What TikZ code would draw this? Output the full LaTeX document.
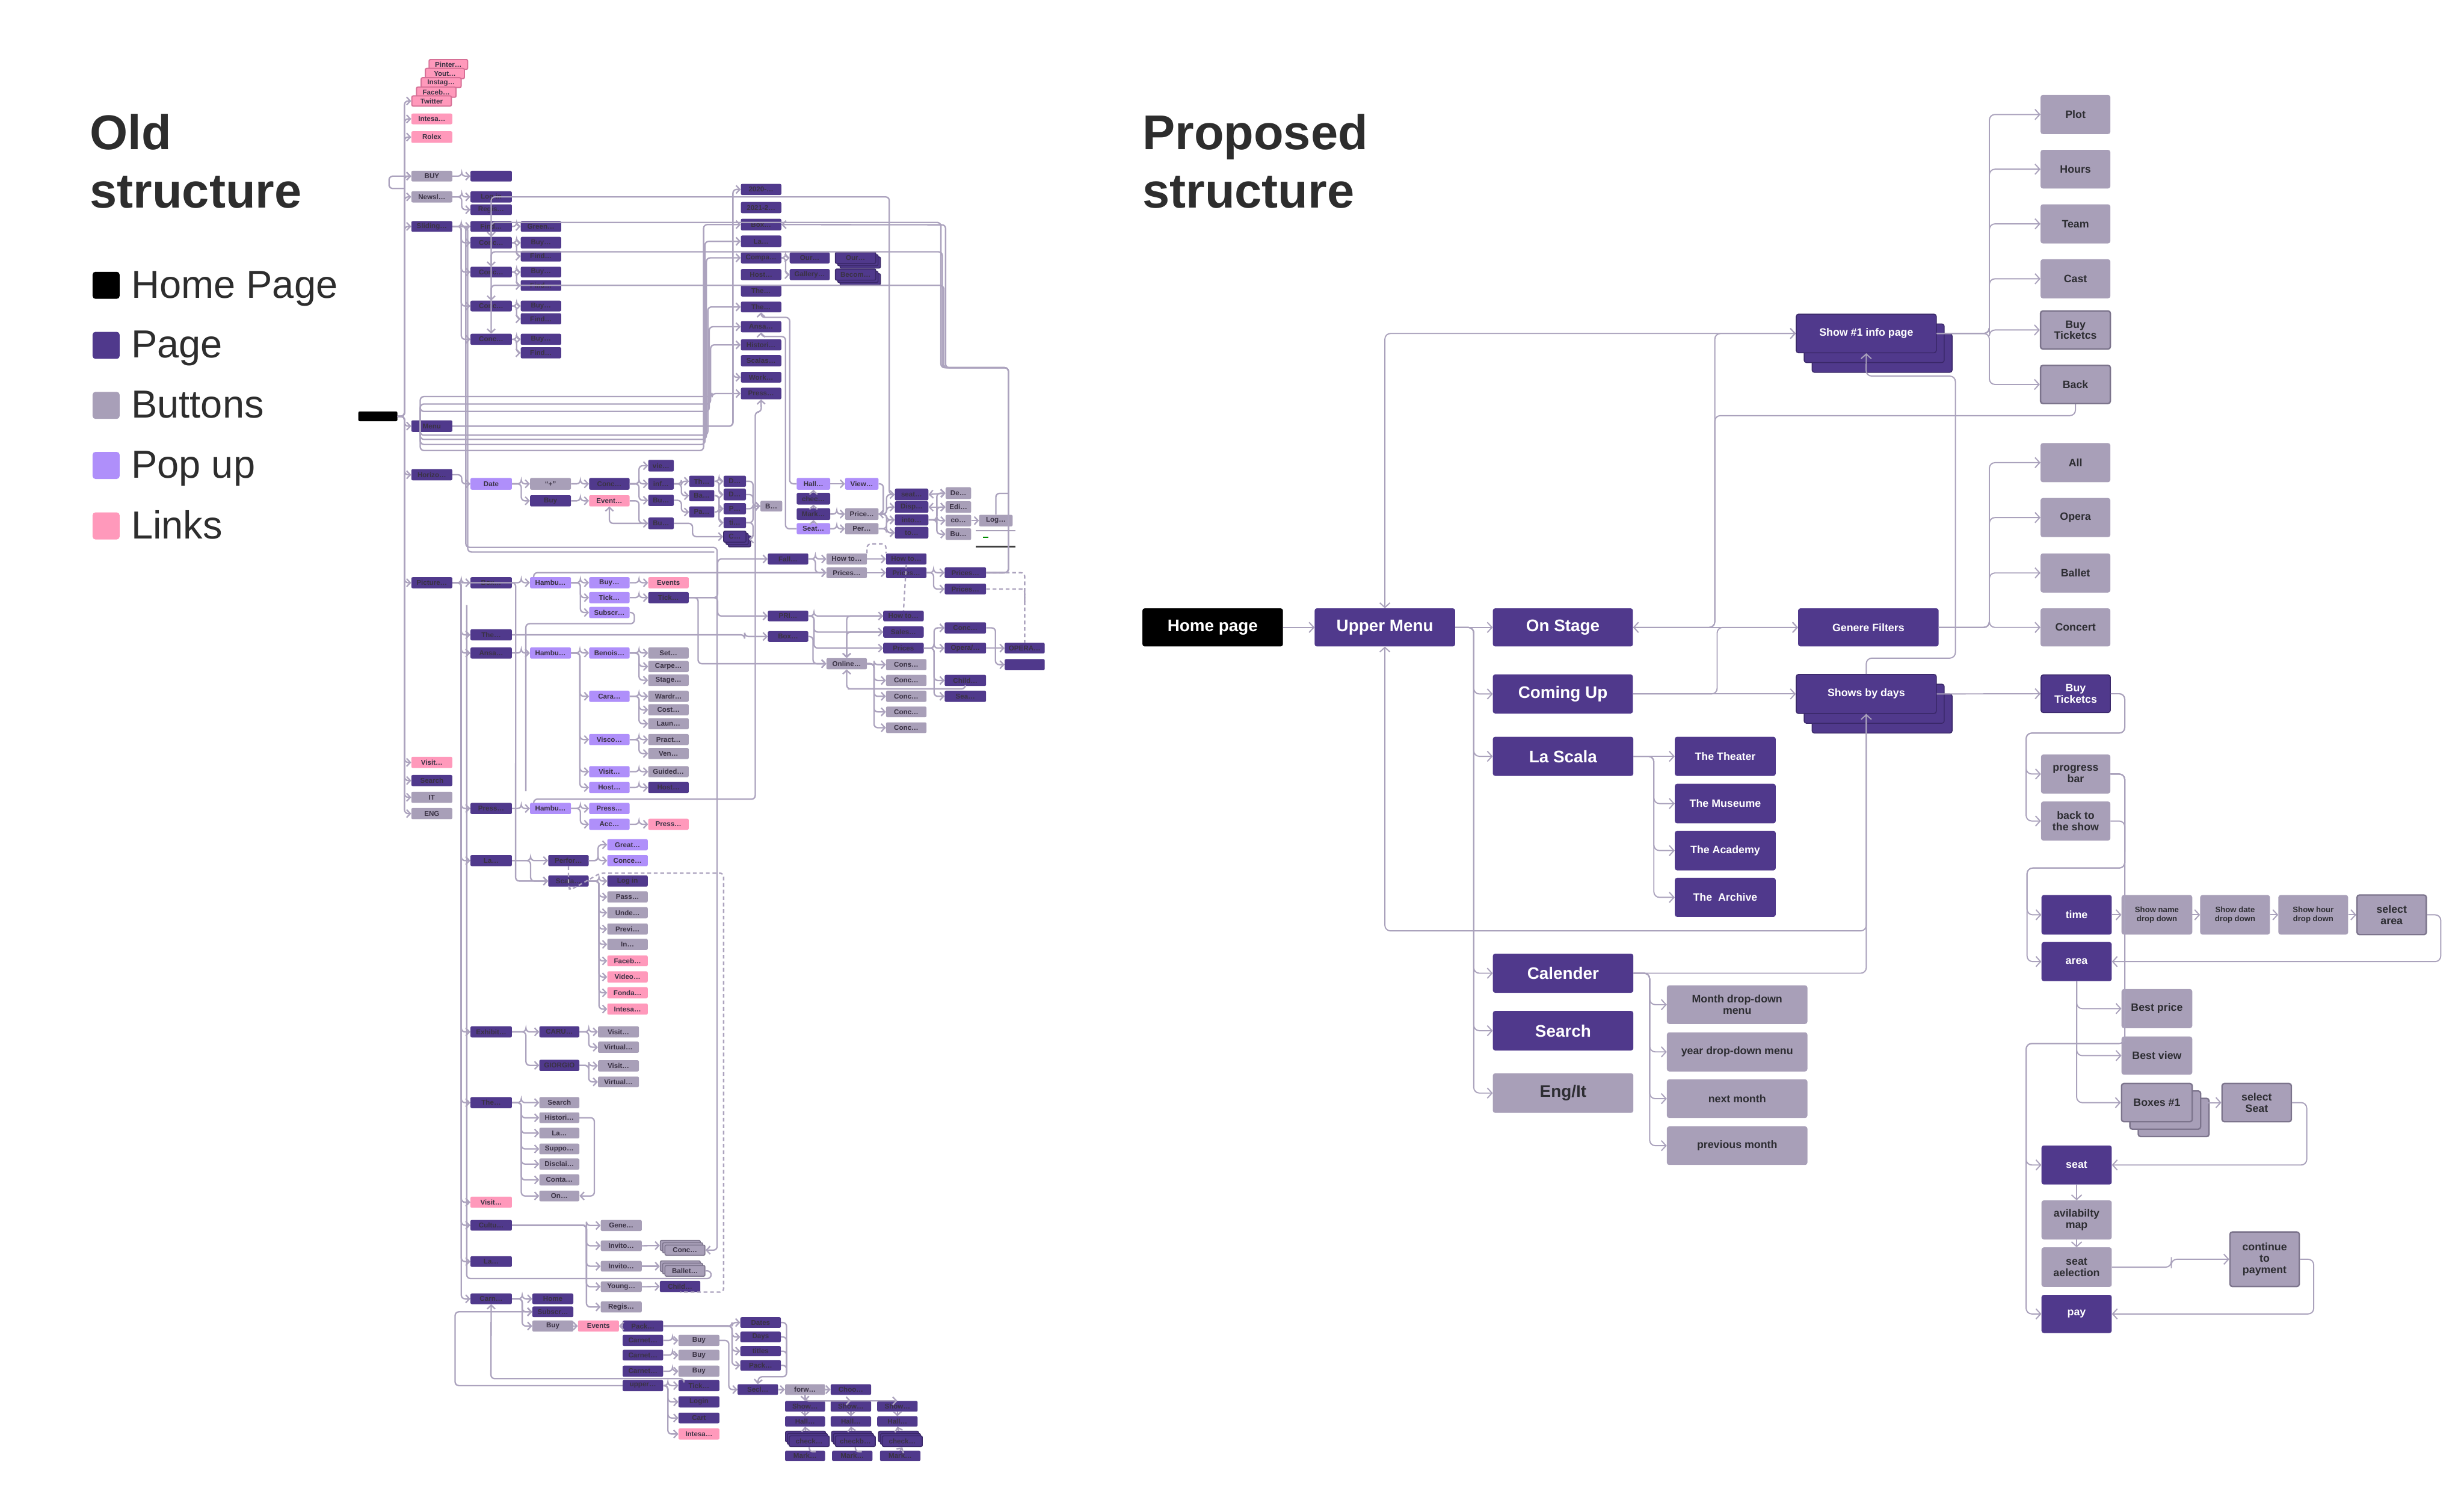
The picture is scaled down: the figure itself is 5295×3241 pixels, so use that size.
\documentclass[tikz,border=0pt]{standalone}
\usepackage{fontspec}
\setmainfont{Liberation Sans}
\usetikzlibrary{arrows.meta,calc}
\definecolor{pagec}{RGB}{80,57,140}
\definecolor{btnc}{RGB}{168,159,184}
\definecolor{popc}{RGB}{175,143,250}
\definecolor{linkc}{RGB}{255,153,187}
\definecolor{linkbd}{RGB}{214,112,150}
\definecolor{btnbd}{RGB}{124,116,140}
\definecolor{stkbd}{RGB}{58,40,105}
\definecolor{olc}{RGB}{172,163,190}
\definecolor{plc}{RGB}{170,162,188}
\definecolor{otext}{RGB}{58,50,68}
\definecolor{ptext}{RGB}{45,45,50}
\definecolor{ttl}{RGB}{45,45,45}
\newcommand\ofont{\fontsize{15}{17}\selectfont\bfseries}
\newcommand\nbx[7]{%
\pgfmathsetmacro\bw{(#5)-(#3)}\pgfmathsetmacro\bh{(#6)-(#4)}%
\pgfmathsetmacro\bcx{((#3)+(#5))/2}\pgfmathsetmacro\bcy{((#4)+(#6))/2}%
\node[#2,minimum width=\bw pt,minimum height=\bh pt] (#1) at (\bcx,\bcy) {#7};}
\newcommand\nbxs[9]{%
\nbx{#1b2}{#2}{#3+2*(#8)}{#4+2*(#9)}{#5+2*(#8)}{#6+2*(#9)}{}%
\nbx{#1b1}{#2}{#3+(#8)}{#4+(#9)}{#5+(#8)}{#6+(#9)}{}%
\nbx{#1}{#2}{#3}{#4}{#5}{#6}{#7}}
\newcommand\otree[3]{\foreach \cc in {#3}{\draw[oa] (#1.east) -- ++(#2,0) |- (\cc.west);}}
\begin{document}
\begin{tikzpicture}[x=1pt,y=-1pt,
 obase/.style={rectangle,rounded corners=3pt,inner sep=0pt,font=\ofont,text=otext},
 opg/.style={obase,fill=pagec},
 obt/.style={obase,fill=btnc},
 opp/.style={obase,fill=popc},
 olk/.style={obase,fill=linkc},
 olkb/.style={olk,draw=linkbd,line width=2.5pt},
 obtb/.style={obt,draw=btnbd,line width=2pt},
 opgs/.style={opg,draw=stkbd,line width=2pt},
 pbase/.style={rectangle,rounded corners=5pt,inner sep=0pt,align=center},
 ppg/.style={pbase,fill=pagec,text=white},
 pbt/.style={pbase,fill=btnc,text=ptext},
 pbd/.style={draw=btnbd,line width=3pt},
 phm/.style={pbase,fill=black,text=white},
 pstk/.style={draw=stkbd,line width=2pt},
 fA/.style={font=\fontsize{36}{40}\selectfont\bfseries},
 fB/.style={font=\fontsize{23}{25}\selectfont\bfseries},
 fC/.style={font=\fontsize{23}{24}\selectfont\bfseries},
 fD/.style={font=\fontsize{17}{19}\selectfont\bfseries},
 oa/.style={draw=olc,line width=3pt,rounded corners=8pt,-{Straight Barb[length=8pt,width=17pt]}},
 oab/.style={oa,{Straight Barb[length=8pt,width=17pt]}-{Straight Barb[length=8pt,width=17pt]}},
 ol/.style={draw=olc,line width=3pt,rounded corners=8pt},
 od/.style={ol,dash pattern=on 8pt off 6pt},
 pa/.style={draw=plc,line width=2.5pt,rounded corners=12pt,-{Straight Barb[length=10pt,width=22pt]}},
 pab/.style={pa,{Straight Barb[length=10pt,width=22pt]}-{Straight Barb[length=10pt,width=22pt]}},
 pl/.style={draw=plc,line width=2.5pt,rounded corners=12pt},
 ttlf/.style={anchor=base west,inner sep=0pt,text=ttl,font=\fontsize{105}{115}\selectfont\bfseries},
 legf/.style={anchor=base west,inner sep=0pt,text=ttl,font=\fontsize{84}{94}\selectfont}
]
\useasboundingbox (0,0) rectangle (5295,3241);
\fill[white] (0,0) rectangle (5295,3241);

%================ titles and legend
\node[ttlf] (t1) at (193,321) {Old};
\node[ttlf] (t2) at (193,447) {structure};
\node[ttlf] (t3) at (2455,321) {Proposed};
\node[ttlf] (t4) at (2455,447) {structure};
\fill[black,rounded corners=6pt] (199,584) rectangle (257,642);
\fill[pagec,rounded corners=6pt] (199,713) rectangle (257,771);
\fill[btnc,rounded corners=6pt] (199,842) rectangle (257,900);
\fill[popc,rounded corners=6pt] (199,971) rectangle (257,1029);
\fill[linkc,rounded corners=6pt] (199,1101) rectangle (257,1159);
\node[legf] (l1) at (282,640) {Home Page};
\node[legf] (l2) at (282,769) {Page};
\node[legf] (l3) at (282,898) {Buttons};
\node[legf] (l4) at (282,1027) {Pop up};
\node[legf] (l5) at (282,1157) {Links};

%================ OLD STRUCTURE nodes
\nbx{hp}{obase,fill=black}{770}{884}{854}{905}{}
\nbx{pinter}{olkb}{922}{128}{1005}{149}{Pinter…}
\nbx{yout}{olkb}{914}{147}{998}{169}{Yout…}
\nbx{instag}{olkb}{905}{167}{991}{188}{Instag…}
\nbx{faceb}{olkb}{895}{187}{980}{209}{Faceb…}
\nbx{twitter}{olkb}{885}{206}{970}{228}{Twitter}
\nbx{intesa1}{olk}{884}{244}{972}{267}{Intesa…}
\nbx{rolex}{olk}{884}{282}{972}{307}{Rolex}
\nbx{buy0}{obt}{884}{367}{972}{390}{BUY}
\nbx{newsl}{obt}{884}{411}{972}{435}{Newsl…}
\nbx{sliding}{opg}{884}{475}{972}{498}{Sliding…}
\nbx{menu}{opg}{884}{903}{972}{928}{Menu}
\nbx{horizo}{opg}{884}{1008}{972}{1032}{Horizo…}
\nbx{picture}{opg}{884}{1240}{972}{1264}{Picture…}
\nbx{visit1}{olk}{884}{1626}{972}{1650}{Visit…}
\nbx{search1}{opg}{884}{1665}{972}{1689}{Search}
\nbx{it}{obt}{884}{1701}{972}{1725}{IT}
\nbx{eng}{obt}{884}{1736}{972}{1760}{ENG}
% top group
\nbx{bbuy}{opg}{1011}{367}{1100}{390}{}
\nbx{login1}{opg}{1011}{411}{1100}{435}{Log in}
\nbx{regis1}{opg}{1011}{439}{1100}{462}{Regis…}
\nbx{find0}{opg}{1011}{475}{1100}{498}{Find…}
\nbx{conc1}{opg}{1011}{509}{1100}{534}{Conc…}
\nbx{conc2}{opg}{1011}{573}{1100}{596}{Conc…}
\nbx{conc3}{opg}{1011}{646}{1100}{669}{Conc…}
\nbx{conc4}{opg}{1011}{717}{1100}{741}{Conc…}
\nbx{green}{opg}{1119}{475}{1206}{498}{Green…}
\nbx{buy1}{opg}{1119}{509}{1206}{534}{Buy…}
\nbx{find1}{opg}{1119}{539}{1206}{562}{Find…}
\nbx{buy2}{opg}{1119}{573}{1206}{596}{Buy…}
\nbx{find2}{opg}{1119}{602}{1206}{625}{Find…}
\nbx{buy3}{opg}{1119}{646}{1206}{669}{Buy…}
\nbx{find3}{opg}{1119}{673}{1206}{697}{Find…}
\nbx{buy4}{opg}{1119}{717}{1206}{741}{Buy…}
\nbx{find4}{opg}{1119}{746}{1206}{770}{Find…}
% column B
\nbx{y2020}{opg}{1592}{395}{1679}{419}{2020-…}
\nbx{y2021}{opg}{1592}{434}{1679}{458}{2021-2…}
\nbx{box2}{opg}{1592}{470}{1679}{495}{Box…}
\nbx{la2}{opg}{1592}{506}{1679}{531}{La…}
\nbx{compa}{opg}{1592}{542}{1679}{566}{Compa…}
\nbx{host2}{opg}{1592}{578}{1679}{602}{Host…}
\nbx{the2a}{opg}{1592}{613}{1679}{637}{The…}
\nbx{the2b}{opg}{1592}{648}{1679}{671}{The…}
\nbx{ansa2}{opg}{1592}{690}{1679}{714}{Ansa…}
\nbx{histori}{opg}{1592}{729}{1679}{753}{Histori…}
\nbx{scalas}{opg}{1592}{763}{1679}{787}{Scalas…}
\nbx{work}{opg}{1592}{799}{1679}{822}{Work…}
\nbx{press2}{opg}{1592}{833}{1679}{858}{Press…}
\nbx{our1}{opg}{1697}{542}{1783}{566}{Our…}
\nbx{gallery}{opg}{1697}{578}{1783}{602}{Gallery…}
\nbxs{our2}{opgs}{1795}{542}{1882}{566}{Our…}{5}{5}
\nbxs{becom}{opgs}{1795}{578}{1882}{602}{Becom…}{5}{5}
% date group
\nbx{date}{opp}{1011}{1027}{1100}{1052}{Date}
\nbx{plus}{obt}{1139}{1027}{1227}{1052}{“+”}
\nbx{buyd}{opg}{1139}{1064}{1227}{1088}{Buy}
\nbx{concd}{opg}{1266}{1027}{1353}{1052}{Conc…}
\nbx{eventd}{olk}{1266}{1064}{1353}{1088}{Event…}
\nbx{vie}{opg}{1393}{988}{1448}{1013}{vie…}
\nbx{inf}{opg}{1393}{1027}{1448}{1052}{inf…}
\nbx{bud1}{opg}{1393}{1063}{1448}{1087}{Bu…}
\nbx{bud2}{opg}{1393}{1112}{1448}{1137}{Bu…}
\nbx{th1}{opg}{1481}{1022}{1535}{1046}{Th…}
\nbx{ba1}{opg}{1481}{1053}{1535}{1077}{Ba…}
\nbx{pa1}{opg}{1481}{1088}{1535}{1112}{Pa…}
\nbx{d1}{opg}{1555}{1022}{1603}{1046}{D…}
\nbx{d2}{opg}{1555}{1050}{1603}{1075}{D…}
\nbx{p1}{opg}{1555}{1081}{1603}{1105}{P…}
\nbx{ti1}{opg}{1555}{1111}{1603}{1135}{ti…}
\nbxs{cst}{opgs}{1555}{1141}{1603}{1165}{C…}{5}{5}
\nbx{bq}{obt}{1634}{1076}{1681}{1099}{B…}
\nbx{hall}{opp}{1712}{1027}{1784}{1052}{Hall…}
\nbx{chec}{opg}{1712}{1059}{1784}{1084}{chec…}
\nbx{mark}{opg}{1712}{1092}{1784}{1117}{Mark…}
\nbx{seatp}{opp}{1712}{1124}{1784}{1148}{Seat…}
\nbx{view}{opp}{1816}{1027}{1888}{1052}{View…}
\nbx{price1}{obt}{1816}{1092}{1888}{1117}{Price…}
\nbx{per}{obt}{1816}{1124}{1888}{1148}{Per…}
\nbx{seat1}{opg}{1923}{1050}{1995}{1075}{seat…}
\nbx{disp}{opg}{1923}{1077}{1995}{1102}{Disp…}
\nbx{into}{opg}{1923}{1105}{1995}{1129}{into…}
\nbx{to1}{opg}{1923}{1132}{1995}{1157}{to…}
\nbx{de}{obt}{2032}{1047}{2087}{1072}{De…}
\nbx{edi}{obt}{2032}{1077}{2087}{1102}{Edi…}
\nbx{co}{obt}{2032}{1106}{2087}{1131}{co…}
\nbx{bu3}{obt}{2032}{1135}{2087}{1160}{Bu…}
\nbx{logb}{obt}{2104}{1106}{2176}{1131}{Log…}
\fill[btnc] (2097,1139) rectangle (2182,1142);
\fill[green!55!black] (2112,1153) rectangle (2124,1156);
\fill[black!75] (2097,1172) rectangle (2182,1176);
\nbx{fall}{opg}{1650}{1189}{1737}{1213}{Fall…}
\nbx{pri}{opg}{1650}{1312}{1737}{1335}{PRI…}
\nbx{box4}{opg}{1650}{1356}{1737}{1379}{Box…}
\nbx{howtog}{obt}{1776}{1189}{1863}{1213}{How to…}
\nbx{pricesg}{obt}{1776}{1219}{1863}{1242}{Prices…}
\nbx{howtop}{opg}{1904}{1189}{1991}{1213}{How to…}
\nbx{pricesp}{opg}{1904}{1219}{1991}{1242}{Prices…}
\nbx{prices3}{opg}{2030}{1219}{2119}{1242}{Prices…}
\nbx{prices4}{opg}{2030}{1254}{2119}{1277}{Prices…}
\nbx{howto2}{opg}{1898}{1312}{1985}{1335}{How to…}
\nbx{sales}{opg}{1898}{1346}{1985}{1370}{Sales…}
\nbx{prices5}{opg}{1898}{1381}{1985}{1404}{Prices}
\nbx{online}{obt}{1776}{1414}{1863}{1438}{Online…}
\nbx{cons}{obt}{1904}{1416}{1991}{1440}{Cons…}
\nbx{concg1}{obt}{1904}{1450}{1991}{1474}{Conc…}
\nbx{concg2}{obt}{1904}{1484}{1991}{1508}{Conc…}
\nbx{concg3}{obt}{1904}{1518}{1991}{1541}{Conc…}
\nbx{concg4}{obt}{1904}{1552}{1991}{1575}{Conc…}
\nbx{concp}{opg}{2030}{1337}{2119}{1361}{Conc…}
\nbx{opera1}{opg}{2030}{1381}{2119}{1404}{Opera/…}
\nbx{child1}{opg}{2030}{1450}{2119}{1474}{Child…}
\nbx{sea}{opg}{2030}{1484}{2119}{1508}{Sea…}
\nbx{opera2}{opg}{2159}{1381}{2245}{1404}{OPERA…}
\nbx{blank2}{opg}{2159}{1416}{2245}{1440}{}
% picture group
\nbx{box3}{opg}{1011}{1240}{1100}{1264}{Box…}
\nbx{hambu1}{opp}{1139}{1240}{1227}{1264}{Hambu…}
\nbx{buyp}{opp}{1266}{1240}{1353}{1264}{Buy…}
\nbx{events1}{olk}{1393}{1240}{1480}{1264}{Events}
\nbx{tickp}{opp}{1266}{1272}{1353}{1296}{Tick…}
\nbx{tick1}{opg}{1393}{1272}{1480}{1296}{Tick…}
\nbx{subscrp}{opp}{1266}{1304}{1353}{1328}{Subscr…}
\nbx{the3}{opg}{1011}{1352}{1100}{1376}{The…}
\nbx{ansa3}{opg}{1011}{1391}{1100}{1415}{Ansa…}
\nbx{hambu2}{opp}{1139}{1391}{1227}{1415}{Hambu…}
\nbx{benois}{opp}{1266}{1391}{1353}{1415}{Benois…}
\nbx{set}{obt}{1393}{1391}{1480}{1415}{Set…}
\nbx{carpe}{obt}{1393}{1420}{1480}{1444}{Carpe…}
\nbx{stage}{obt}{1393}{1449}{1480}{1474}{Stage…}
\nbx{cara}{opp}{1266}{1484}{1353}{1508}{Cara…}
\nbx{wardr}{obt}{1393}{1484}{1480}{1508}{Wardr…}
\nbx{cost}{obt}{1393}{1513}{1480}{1537}{Cost…}
\nbx{laun}{obt}{1393}{1543}{1480}{1567}{Laun…}
\nbx{visco}{opp}{1266}{1577}{1353}{1601}{Visco…}
\nbx{pract}{obt}{1393}{1577}{1480}{1601}{Pract…}
\nbx{ven}{obt}{1393}{1607}{1480}{1631}{Ven…}
\nbx{visit3}{opp}{1266}{1646}{1353}{1670}{Visit…}
\nbx{guided}{obt}{1393}{1646}{1480}{1670}{Guided…}
\nbx{host3}{opp}{1266}{1680}{1353}{1704}{Host…}
\nbx{host4}{opg}{1393}{1680}{1480}{1704}{Host…}
\nbx{press3}{opg}{1011}{1725}{1100}{1749}{Press…}
\nbx{hambu3}{opp}{1139}{1725}{1227}{1749}{Hambu…}
\nbx{press4}{opp}{1266}{1725}{1353}{1749}{Press…}
\nbx{acc}{opp}{1266}{1759}{1353}{1783}{Acc…}
\nbx{press5}{olk}{1393}{1759}{1480}{1783}{Press…}
% la group
\nbx{la3}{opg}{1011}{1837}{1100}{1861}{La…}
\nbx{perfor}{opg}{1178}{1837}{1265}{1861}{Perfor…}
\nbx{great}{opp}{1305}{1803}{1392}{1827}{Great…}
\nbx{conce}{opp}{1305}{1837}{1392}{1861}{Conce…}
\nbx{scala}{opg}{1178}{1881}{1265}{1905}{Scala…}
\nbx{login2}{opg}{1305}{1881}{1392}{1905}{Log in}
\nbx{pass}{obt}{1305}{1915}{1392}{1939}{Pass…}
\nbx{unde}{obt}{1305}{1949}{1392}{1973}{Unde…}
\nbx{previ}{obt}{1305}{1984}{1392}{2008}{Previ…}
\nbx{in1}{obt}{1305}{2017}{1392}{2041}{In…}
\nbx{faceb2}{olk}{1305}{2053}{1392}{2076}{Faceb…}
\nbx{video}{olk}{1305}{2087}{1392}{2111}{Video…}
\nbx{fonda}{olk}{1305}{2121}{1392}{2145}{Fonda…}
\nbx{intesa2}{olk}{1305}{2156}{1392}{2180}{Intesa…}
\nbx{exhib}{opg}{1011}{2205}{1100}{2229}{Exhibit…}
\nbx{caru}{opg}{1159}{2205}{1245}{2229}{CARU…}
\nbx{giorgio}{opg}{1159}{2277}{1245}{2301}{GIORGIO}
\nbx{visit4}{obt}{1285}{2205}{1373}{2229}{Visit…}
\nbx{virtual1}{obt}{1285}{2238}{1373}{2262}{Virtual…}
\nbx{visit5}{obt}{1285}{2278}{1373}{2302}{Visit…}
\nbx{virtual2}{obt}{1285}{2313}{1373}{2336}{Virtual…}
\nbx{the4}{opg}{1011}{2357}{1100}{2381}{The…}
\nbx{search2}{obt}{1159}{2357}{1245}{2381}{Search}
\nbx{histori2}{obt}{1159}{2390}{1245}{2413}{Histori…}
\nbx{la5}{obt}{1159}{2423}{1245}{2446}{La…}
\nbx{suppo}{obt}{1159}{2457}{1245}{2480}{Suppo…}
\nbx{disclai}{obt}{1159}{2489}{1245}{2513}{Disclai…}
\nbx{conta}{obt}{1159}{2523}{1245}{2547}{Conta…}
\nbx{on1}{obt}{1159}{2558}{1245}{2581}{On…}
\nbx{visit2}{olk}{1011}{2571}{1100}{2595}{Visit…}
\nbx{cultu}{opg}{1011}{2621}{1100}{2644}{Cultu…}
\nbx{la4}{opg}{1011}{2699}{1100}{2722}{La…}
\nbx{carn}{opg}{1011}{2779}{1100}{2802}{Carn…}
\nbx{gene}{obt}{1291}{2621}{1379}{2645}{Gene…}
\nbx{invito1}{obt}{1291}{2665}{1379}{2688}{Invito…}
\nbx{invito2}{obt}{1291}{2709}{1379}{2732}{Invito…}
\nbx{young}{obt}{1291}{2753}{1379}{2776}{Young…}
\nbx{regis2}{obt}{1291}{2796}{1379}{2820}{Regis…}
\nbxs{gstack}{obtb}{1429}{2675}{1515}{2697}{Conc…}{-5}{-5}
\nbxs{bstack}{obtb}{1429}{2719}{1515}{2742}{Ballet…}{-5}{-5}
\nbx{child2}{opg}{1418}{2752}{1505}{2776}{Child…}
\nbx{home2}{opg}{1144}{2779}{1232}{2802}{Home}
\nbx{subscr2}{opg}{1144}{2807}{1232}{2830}{Subscr…}
\nbx{buy5}{obt}{1144}{2837}{1232}{2861}{Buy}
\nbx{events2}{olk}{1242}{2837}{1330}{2861}{Events}
\nbx{pack1}{opg}{1338}{2837}{1425}{2861}{Pack…}
\nbx{carnet1}{opg}{1338}{2868}{1425}{2892}{Carnet…}
\nbx{carnet2}{opg}{1338}{2900}{1425}{2923}{Carnet…}
\nbx{carnet3}{opg}{1338}{2934}{1425}{2958}{Carnet…}
\nbx{upper}{opg}{1338}{2965}{1425}{2989}{upper…}
\nbx{buyc1}{obt}{1458}{2868}{1546}{2892}{Buy}
\nbx{buyc2}{obt}{1458}{2900}{1546}{2923}{Buy}
\nbx{buyc3}{obt}{1458}{2934}{1546}{2958}{Buy}
\nbx{tick2}{opg}{1458}{2965}{1546}{2989}{Tick…}
\nbx{login3}{opg}{1458}{3000}{1546}{3024}{Login}
\nbx{cart}{opg}{1458}{3035}{1546}{3058}{Cart}
\nbx{intesa3}{olk}{1458}{3069}{1546}{3093}{Intesa…}
\nbx{dates}{opg}{1591}{2830}{1678}{2853}{Dates}
\nbx{days}{opg}{1591}{2861}{1678}{2884}{Days}
\nbx{titles}{opg}{1591}{2892}{1678}{2914}{titles}
\nbx{pack2}{opg}{1591}{2922}{1678}{2945}{Pack…}
\nbx{secl}{opg}{1585}{2974}{1672}{2997}{Secl…}
\nbx{forw}{obt}{1687}{2974}{1773}{2997}{forw…}
\nbx{choo}{opg}{1785}{2974}{1872}{2997}{Choo…}
\nbx{show1o}{opg}{1687}{3010}{1773}{3033}{Show…}
\nbx{show2o}{opg}{1785}{3010}{1872}{3033}{Show…}
\nbx{show3o}{opg}{1885}{3010}{1972}{3033}{Show…}
\nbx{hall1}{opg}{1687}{3043}{1773}{3065}{Hall…}
\nbx{hall2}{opg}{1785}{3043}{1872}{3065}{Hall…}
\nbx{hall3}{opg}{1885}{3043}{1972}{3065}{Hall…}
\nbxs{check1}{opgs}{1696}{3085}{1782}{3108}{check…}{-4}{-5}
\nbxs{check2}{opgs}{1795}{3085}{1881}{3108}{checkb…}{-4}{-5}
\nbxs{check3}{opgs}{1896}{3085}{1982}{3108}{check…}{-4}{-5}
\nbx{mark1}{opg}{1687}{3117}{1773}{3139}{Mark…}
\nbx{mark2}{opg}{1788}{3117}{1875}{3139}{Mark…}
\nbx{mark3}{opg}{1891}{3117}{1978}{3139}{Mark…}

%================ OLD STRUCTURE connectors
\otree{hp}{15}{twitter,intesa1,rolex,buy0,newsl,sliding,menu,horizo,picture,visit1,search1,it,eng}
\coordinate (bl) at (869,405);
\draw[oa] (bl) -| (836,392) |- (buy0.west);
\otree{buy0}{20}{bbuy}
\otree{newsl}{20}{login1,regis1}
\otree{sliding}{19}{find0,conc1,conc2,conc3,conc4}
\otree{find0}{10}{green}
\otree{conc1}{10}{buy1,find1}
\otree{conc2}{10}{buy2,find2}
\otree{conc3}{10}{buy3,find3}
\otree{conc4}{10}{buy4,find4}
% menu to column B
\draw[oa] (menu.east) -| (1575,700) |- (y2020.west);
\draw[oa] (menu.east) -| (1575,700) |- (work.west);
\coordinate (mtop) at (903,880);
\draw[oa] (mtop) |- (1512,968) |- (box2.west);
\draw[oa] (mtop) |- (1515,955) |- (la2.west);
\draw[oa] (mtop) |- (1518,944) |- (compa.west);
\draw[oa] (mtop) |- (1521,935) |- (the2b.west);
\draw[oa] (mtop) |- (1524,884) |- (ansa2.west);
\draw[oa] (mtop) |- (1527,868) |- (histori.west);
\draw[oa] (mtop) |- (1530,852) |- (press2.west);
\otree{compa}{9}{our1,gallery}
% loops from the right into the Conc pages
\draw[oa] (seat1.west) -| (1911,423) -| (conc1.north);
\draw[oa] (prices3.east) -| (2167,790) -| (2022,478) -| (conc2.north);
\draw[oa] (prices3.east) -| (2167,790) -| (2025,541) -| (conc3.north);
\draw[oa] (prices3.east) -| (2167,790) -| (2028,613) -| (conc4.north);
\draw[oa] (prices3.east) -| (2167,790) -| (2032,483) -- (box2.east);
\draw[ol] (logb.north) -- (2140,1060) -- (2167,1060);
% date group
\otree{horizo}{20}{date}
\otree{date}{20}{plus,buyd}
\otree{plus}{20}{concd}
\otree{buyd}{20}{eventd}
\otree{concd}{20}{vie,inf,bud1}
\otree{eventd}{20}{bud2}
\otree{inf}{16}{th1,ba1}
\otree{bud1}{16}{pa1}
\otree{th1}{10}{d1,d2}
\otree{ba1}{10}{p1,ti1}
\otree{pa1}{10}{p1}
\draw[oa] (bud2.east) -- ++(40,0) |- (cst.west);
\draw[oa] (bud2.west) -| (eventd.south);
\foreach \cc in {d1,d2,p1,ti1}{\draw[oa] (\cc.east) -- ++(15,0) |- (bq.west);}
\draw[oa] (ti1.east) -- ++(15,0) |- (cstb1.east);
\draw[oa] (hall.east) -- (view.west);
\draw[oa] (chec.north) -- (hall.south);
\draw[oa] (mark.north) -- (chec.south);
\draw[oa] (seatp.north) -- (mark.south);
\draw[oa] (mark.east) -- ++(14,0) |- (price1.west);
\draw[oa] (seatp.east) -- ++(14,0) |- (per.west);
\draw[oa] (view.east) -- ++(10,0) |- (price1.east);
\otree{price1}{17}{seat1,disp,into,to1}
\otree{per}{17}{into,to1}
\draw[oab] (seat1.east) -- (de.west);
\draw[oab] (disp.east) -- (edi.west);
\otree{into}{18}{de,edi,co,bu3}
\draw[oa] (co.east) -- (logb.west);
\draw[oa] (hall.west) -| (1697,682) -| (the2b.south);
\draw[oa] (seatp.west) -| (1688,723) -| (ansa2.south);
% picture group
\otree{picture}{19}{box3,the3,ansa3,press3,la3,exhib,the4,visit2,cultu,la4,carn}
\otree{box3}{20}{hambu1}
\otree{hambu1}{20}{buyp,tickp,subscrp}
\otree{buyp}{20}{events1}
\otree{tickp}{20}{tick1}
\draw[oa] ($(hambu1.north west)+(8,0)$) |- (pricesg.west);
\draw[oa] (tick1.east) -- ++(62,0) |- (fall.west);
\draw[oa] (tick1.east) -- ++(62,0) |- (pri.west);
\draw[oa] (tick1.east) -- ++(20,0) |- (online.west);
\draw[oa] (the3.east) -- ++(500,0) |- (box4.west);
\draw[oa] (box4.east) -- ++(10,0) |- (online.west);
\otree{fall}{15}{howtog,pricesg}
\draw[oa] (howtog.east) -- (howtop.west);
\draw[oa] (pricesg.east) -- (pricesp.west);
\otree{pricesp}{15}{prices3,prices4}
\otree{pri}{12}{howto2,sales,prices5}
\draw[oa] (sales.west) -| (online.north);
\draw[oa] (howto2.west) -- ++(-30,0) -| (online.north);
\otree{online}{15}{cons,concg1,concg2,concg3,concg4}
\otree{prices5}{22}{concp,opera1,child1,sea}
\otree{concp}{20}{blank2}
\draw[oa] (opera1.east) -- (opera2.west);
\draw[oa] (child1.south) |- (1830,1480) -| (online.south);
\draw[od] (prices3.east) -| (opera2.north);
\draw[od] (prices4.east) -| (2202,1300);
\draw[od] (howtop.south) -- (howto2.north);
\draw[od] (howtog.north east) -- ++(0,-20) -| (howtop.north west);
\otree{ansa3}{20}{hambu2}
\otree{hambu2}{19}{benois,cara,visco,visit3,host3}
\otree{benois}{20}{set,carpe,stage}
\otree{cara}{20}{wardr,cost,laun}
\otree{visco}{20}{pract,ven}
\otree{visit3}{20}{guided}
\otree{host3}{20}{host4}
\otree{press3}{20}{hambu3}
\otree{hambu3}{20}{press4,acc}
\otree{acc}{20}{press5}
\draw[oa] ($(hambu3.north west)+(8,0)$) |- (1623,1717) |- (1636,885) -- (press2.south);
\draw[ol] (subscrp.east) -- ++(10,0) |- (1130,1340) -- (1130,1700);
% la group
\otree{la3}{40}{perfor,scala}
\otree{perfor}{20}{great,conce}
\otree{scala}{22}{login2,pass,unde,previ,in1,faceb2,video,fonda,intesa2}
\draw[oa] (picture.east) -- ++(136,0) -- (1108,1800) |- (scala.west);
\draw[od] (perfor.south) |- (1230,1910) -- (1290,1876) -| (1555,2000) |- (child2.south);
\otree{exhib}{30}{caru,giorgio}
\otree{caru}{20}{visit4,virtual1}
\otree{giorgio}{20}{visit5,virtual2}
\otree{the4}{20}{search2,histori2,la5,suppo,disclai,conta,on1}
\draw[oa] (histori2.east) -- ++(32,0) |- (on1.east);
\otree{cultu}{160}{gene,invito1,invito2,young,regis2}
\draw[oa] (invito1.east) -- (gstackb2.west);
\draw[oa] (invito2.east) -- (bstackb2.west);
\draw[oa] (young.east) -- (child2.west);
\draw[oa] (sliding.east) -| (1001,1176) -| (1541,2686) -- (gstack.east);
\draw[ol] (sliding.east) -| (1005,1186) -- (1535,1186);
\draw[ol] (bstack.east) -- ++(12,0) |- (1003,2747) -- (1003,1300);
\otree{carn}{22}{home2,subscr2,buy5}
\draw[oa] (buy5.east) -- (events2.west);
\draw[oa] (pack1.west) -- (events2.east);
\otree{pack1}{148}{dates,days,titles,pack2}
\otree{carnet1}{20}{buyc1}
\otree{carnet2}{20}{buyc2}
\otree{carnet3}{20}{buyc3}
\otree{upper}{10}{tick2,login3,cart,intesa3}
\draw[oa] (upper.west) -| (978,2900) |- (subscr2.west);
\draw[oa] ($(tick2.north west)+(12,0)$) |- (1055,2962) -- (carn.south);
\draw[oa] (buyc1.east) -- ++(20,0) |- (secl.west);
\foreach \cc in {dates,days,titles}{\draw[ol] (\cc.east) -- ++(12,0) -- (1690,2950);}
\draw[oa] (pack2.east) -- ++(12,0) |- (1630,2958) -- (secl.north);
\draw[oa] (secl.east) -- (forw.west);
\draw[oa] (forw.east) -- (choo.west);
\draw[oa] (forw.south) |- (show3o.north);
\draw[oa] (forw.south) |- (show2o.north);
\draw[oa] (forw.south) -- (show1o.north);
\draw[oa] (show1o.south) -- (hall1.north);
\draw[oa] (show2o.south) -- (hall2.north);
\draw[oa] (show3o.south) -- (hall3.north);
\draw[oa] (check1b2.north) -- (hall1.south);
\draw[oa] (check2b2.north) -- (hall2.south);
\draw[oa] (check3b2.north) -- (hall3.south);
\draw[ol] (check1.south) -- ++(0,10) -- ++(14,0);
\draw[ol] (check2.south) -- ++(0,10) -- ++(14,0);
\draw[oa] (mark3.north) -- (check3.south);

%================ PROPOSED STRUCTURE nodes
\nbx{home}{phm,fA}{2455}{1307}{2757}{1389}{Home page}
\nbx{umenu}{ppg,fA}{2825}{1307}{3127}{1389}{Upper Menu}
\nbx{onstage}{ppg,fA}{3208}{1307}{3509}{1389}{On Stage}
\nbx{comingup}{ppg,fA}{3208}{1449}{3509}{1533}{Coming Up}
\nbx{lascala}{ppg,fA}{3208}{1583}{3510}{1667}{La Scala}
\nbx{calender}{ppg,fA}{3208}{2049}{3510}{2133}{Calender}
\nbx{search}{ppg,fA}{3208}{2172}{3510}{2257}{Search}
\nbx{engit}{pbt,fA}{3208}{2306}{3510}{2391}{Eng/It}
\nbxs{show1}{ppg,fB,pstk}{3860}{675}{4161}{758}{Show \#1 info page}{17}{21}
\nbx{genere}{ppg,fB}{3864}{1307}{4166}{1389}{Genere Filters}
\nbxs{showsdays}{ppg,fB,pstk}{3860}{1449}{4161}{1533}{Shows by days}{17}{21}
\nbx{theater}{ppg,fC}{3599}{1583}{3816}{1667}{The Theater}
\nbx{museume}{ppg,fC}{3599}{1684}{3816}{1769}{The Museume}
\nbx{academy}{ppg,fC}{3599}{1785}{3816}{1870}{The Academy}
\nbx{archive}{ppg,fC}{3599}{1886}{3816}{1970}{The\ \ Archive}
\nbx{month}{pbt,fC}{3582}{2117}{3884}{2200}{Month drop-down\\menu}
\nbx{year}{pbt,fC}{3582}{2218}{3884}{2302}{year drop-down menu}
\nbx{nextm}{pbt,fC}{3582}{2319}{3884}{2402}{next month}
\nbx{prevm}{pbt,fC}{3582}{2420}{3884}{2503}{previous month}
\nbx{plot}{pbt,fC}{4385}{204}{4535}{288}{Plot}
\nbx{hours}{pbt,fC}{4385}{322}{4535}{405}{Hours}
\nbx{team}{pbt,fC}{4385}{439}{4535}{523}{Team}
\nbx{cast}{pbt,fC}{4385}{557}{4535}{641}{Cast}
\nbx{buyt1}{pbt,pbd,fC}{4385}{668}{4535}{750}{Buy\\Ticketcs}
\nbx{back}{pbt,pbd,fC}{4385}{785}{4535}{867}{Back}
\nbx{all}{pbt,fC}{4385}{952}{4535}{1036}{All}
\nbx{opera}{pbt,fC}{4385}{1070}{4535}{1154}{Opera}
\nbx{ballet}{pbt,fC}{4385}{1189}{4535}{1273}{Ballet}
\nbx{concert}{pbt,fC}{4385}{1307}{4535}{1389}{Concert}
\nbx{buyt2}{ppg,pstk,fC}{4386}{1450}{4535}{1531}{Buy\\Ticketcs}
\nbx{progress}{pbt,fC}{4386}{1621}{4535}{1705}{progress\\bar}
\nbx{backshow}{pbt,fC}{4386}{1722}{4535}{1806}{back to\\the show}
\nbx{time}{ppg,fC}{4387}{1923}{4538}{2008}{time}
\nbx{showname}{pbt,fD}{4559}{1923}{4711}{2008}{Show name\\drop down}
\nbx{showdate}{pbt,fD}{4728}{1923}{4878}{2008}{Show date\\drop down}
\nbx{showhour}{pbt,fD}{4896}{1923}{5046}{2008}{Show hour\\drop down}
\nbx{selarea}{pbt,pbd,fC}{5065}{1923}{5214}{2008}{select\\area}
\nbx{area}{ppg,fC}{4387}{2024}{4538}{2108}{area}
\nbx{bestprice}{pbt,fC}{4559}{2125}{4711}{2209}{Best price}
\nbx{bestview}{pbt,fC}{4559}{2227}{4711}{2309}{Best view}
\nbxs{boxes}{pbt,pbd,fC}{4559}{2328}{4711}{2410}{Boxes \#1}{18}{16}
\nbx{selseat}{pbt,pbd,fC}{4775}{2328}{4924}{2410}{select\\Seat}
\nbx{seat}{ppg,fC}{4387}{2461}{4538}{2545}{seat}
\nbx{avail}{pbt,fC}{4387}{2579}{4538}{2663}{avilabilty\\map}
\nbx{selection}{pbt,fC}{4387}{2680}{4538}{2765}{seat\\aelection}
\nbx{continue}{pbt,pbd,fC}{4792}{2647}{4941}{2764}{continue\\to\\payment}
\nbx{pay}{ppg,fC}{4387}{2782}{4538}{2864}{pay}

%================ PROPOSED STRUCTURE connectors
\draw[pa] (home.east) -- (umenu.west);
\draw[pa] (umenu.east) -- (onstage.west);
\foreach \cc in {comingup,lascala,calender,search,engit}{\draw[pa] (umenu.east) -- (3167,1348) |- (\cc.west);}
\draw[pa] (lascala.east) -- (theater.west);
\foreach \cc in {museume,academy,archive}{\draw[pa] (lascala.east) -- (3554,1625) |- (\cc.west);}
\foreach \cc in {month,year,nextm,prevm}{\draw[pa] (calender.east) -- (3545,2091) |- (\cc.west);}
\draw[pa] (calender.east) -| (showsdays.south);
\draw[pa] (showsdays.south) |- (2976,2000) -- (umenu.south);
\draw[pab] (show1.west) -| (umenu.north);
\draw[pa] (onstage.east) -- (genere.west);
\draw[pa] (back.south) |- (3685,893) |- (onstage.east);
\draw[pa] (onstage.east) -| (3685,1000) |- (show1.west);
\draw[pa] (comingup.east) -- (showsdays.west);
\draw[pa] (comingup.east) -| (3690,1420) |- (genere.west);
\foreach \cc in {plot,hours,team,cast,buyt1,back}{\draw[pa] (show1.east) -- (4275,716.5) |- (\cc.west);}
\foreach \cc in {all,opera,ballet,concert}{\draw[pa] (genere.east) -- (4275,1348) |- (\cc.west);}
\draw[pa] (showsdays.east) -- (buyt2.west);
\draw[pa] (showsdays.north) |- (4202,1414) |- (4010,808) -- (show1.south);
\draw[pa] (buyt2.east) -| (4566,1575) -| (4354,1663) -- (progress.west);
\draw[pa] (buyt2.east) -| (4566,1575) -| (4354,1764) -- (backshow.west);
\draw[pa] (progress.east) -| (4566,1865) -| (4356,1965.5) -- (time.west);
\draw[pa] (progress.east) -| (4566,1865) -| (4356,2066) -- (area.west);
\draw[pl] (backshow.east) -| (4566,1830);
\draw[pa] (progress.east) -| (4566,2242) -| (4354,2503) -- (seat.west);
\draw[pa] (progress.east) -| (4566,2242) -| (4354,2823) -- (pay.west);
\draw[pa] (time.east) -- (showname.west);
\draw[pa] (showname.east) -- (showdate.west);
\draw[pa] (showdate.east) -- (showhour.west);
\draw[pa] (showhour.east) -- (selarea.west);
\draw[pa] (selarea.east) -| (5245,2066) -- (area.east);
\foreach \cc in {bestprice,bestview,boxes}{\draw[pa] (area.south) |- (\cc.west);}
\draw[pa] ($(boxes.east)+(30,0)$) -- (selseat.west);
\draw[pa] (selseat.east) -| (4957,2503) -- (seat.east);
\draw[pa] (seat.south) -- (avail.north);
\draw[pa] (avail.south) -- (selection.north);
\draw[pa] (selection.east) -| (4666,2713) |- (continue.west);
\draw[pa] (continue.east) -| (4972,2823) -- (pay.east);
\end{tikzpicture}
\end{document}
